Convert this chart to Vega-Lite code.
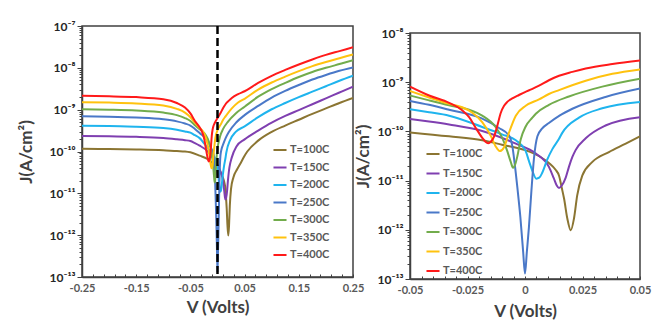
{
  "$schema": "https://vega.github.io/schema/vega-lite/v6.json",
  "background": "white",
  "padding": {"left": 16, "top": 19, "right": 5, "bottom": 5},
  "datasets": {
    "curves": [
      {"T": "T=100C", "V": -0.25, "J": 1.161e-10},
      {"T": "T=100C", "V": -0.2, "J": 1.148e-10},
      {"T": "T=100C", "V": -0.15, "J": 1.122e-10},
      {"T": "T=100C", "V": -0.1, "J": 1.072e-10},
      {"T": "T=100C", "V": -0.075, "J": 1.023e-10},
      {"T": "T=100C", "V": -0.06, "J": 1.0e-10},
      {"T": "T=100C", "V": -0.05, "J": 9.55e-11},
      {"T": "T=100C", "V": -0.033, "J": 7.943e-11},
      {"T": "T=100C", "V": -0.0186, "J": 6.607e-11},
      {"T": "T=100C", "V": -0.01, "J": 5.37e-11},
      {"T": "T=100C", "V": 0, "J": 4.169e-11},
      {"T": "T=100C", "V": 0.006, "J": 3.162e-11},
      {"T": "T=100C", "V": 0.0104, "J": 2.291e-11},
      {"T": "T=100C", "V": 0.0133, "J": 1.66e-11},
      {"T": "T=100C", "V": 0.0148, "J": 1.259e-11},
      {"T": "T=100C", "V": 0.016, "J": 7.079e-12},
      {"T": "T=100C", "V": 0.017, "J": 4.266e-12},
      {"T": "T=100C", "V": 0.0184, "J": 1.698e-12},
      {"T": "T=100C", "V": 0.0199, "J": 9.772e-13},
      {"T": "T=100C", "V": 0.0213, "J": 1.698e-12},
      {"T": "T=100C", "V": 0.0227, "J": 5.012e-12},
      {"T": "T=100C", "V": 0.0249, "J": 1.259e-11},
      {"T": "T=100C", "V": 0.0293, "J": 2.399e-11},
      {"T": "T=100C", "V": 0.0365, "J": 3.802e-11},
      {"T": "T=100C", "V": 0.0438, "J": 5.623e-11},
      {"T": "T=100C", "V": 0.05, "J": 7.943e-11},
      {"T": "T=100C", "V": 0.055, "J": 1.0e-10},
      {"T": "T=100C", "V": 0.075, "J": 1.82e-10},
      {"T": "T=100C", "V": 0.1, "J": 2.951e-10},
      {"T": "T=100C", "V": 0.125, "J": 4.169e-10},
      {"T": "T=100C", "V": 0.15, "J": 5.754e-10},
      {"T": "T=100C", "V": 0.175, "J": 7.943e-10},
      {"T": "T=100C", "V": 0.2, "J": 1.072e-9},
      {"T": "T=100C", "V": 0.225, "J": 1.445e-9},
      {"T": "T=100C", "V": 0.25, "J": 1.905e-9},

      {"T": "T=150C", "V": -0.25, "J": 2.344e-10},
      {"T": "T=150C", "V": -0.2, "J": 2.317e-10},
      {"T": "T=150C", "V": -0.15, "J": 2.239e-10},
      {"T": "T=150C", "V": -0.1, "J": 2.089e-10},
      {"T": "T=150C", "V": -0.075, "J": 1.95e-10},
      {"T": "T=150C", "V": -0.06, "J": 1.862e-10},
      {"T": "T=150C", "V": -0.05, "J": 1.778e-10},
      {"T": "T=150C", "V": -0.0417, "J": 1.585e-10},
      {"T": "T=150C", "V": -0.033, "J": 1.38e-10},
      {"T": "T=150C", "V": -0.0186, "J": 1.023e-10},
      {"T": "T=150C", "V": -0.004, "J": 5.623e-11},
      {"T": "T=150C", "V": 0.0047, "J": 3.548e-11},
      {"T": "T=150C", "V": 0.0104, "J": 1.905e-11},
      {"T": "T=150C", "V": 0.0125, "J": 1.122e-11},
      {"T": "T=150C", "V": 0.0138, "J": 7.943e-12},
      {"T": "T=150C", "V": 0.0148, "J": 7.079e-12},
      {"T": "T=150C", "V": 0.016, "J": 7.943e-12},
      {"T": "T=150C", "V": 0.0177, "J": 1.148e-11},
      {"T": "T=150C", "V": 0.0191, "J": 1.905e-11},
      {"T": "T=150C", "V": 0.0206, "J": 3.02e-11},
      {"T": "T=150C", "V": 0.022, "J": 4.169e-11},
      {"T": "T=150C", "V": 0.0264, "J": 7.244e-11},
      {"T": "T=150C", "V": 0.035, "J": 1.318e-10},
      {"T": "T=150C", "V": 0.05, "J": 1.95e-10},
      {"T": "T=150C", "V": 0.075, "J": 3.162e-10},
      {"T": "T=150C", "V": 0.1, "J": 4.898e-10},
      {"T": "T=150C", "V": 0.125, "J": 7.079e-10},
      {"T": "T=150C", "V": 0.15, "J": 9.772e-10},
      {"T": "T=150C", "V": 0.175, "J": 1.349e-9},
      {"T": "T=150C", "V": 0.2, "J": 1.862e-9},
      {"T": "T=150C", "V": 0.225, "J": 2.57e-9},
      {"T": "T=150C", "V": 0.25, "J": 3.548e-9},

      {"T": "T=200C", "V": -0.25, "J": 4.12e-10},
      {"T": "T=200C", "V": -0.2, "J": 4.074e-10},
      {"T": "T=200C", "V": -0.15, "J": 3.89e-10},
      {"T": "T=200C", "V": -0.1, "J": 3.631e-10},
      {"T": "T=200C", "V": -0.075, "J": 3.311e-10},
      {"T": "T=200C", "V": -0.06, "J": 3.02e-10},
      {"T": "T=200C", "V": -0.05, "J": 2.818e-10},
      {"T": "T=200C", "V": -0.0417, "J": 2.455e-10},
      {"T": "T=200C", "V": -0.033, "J": 2.089e-10},
      {"T": "T=200C", "V": -0.0186, "J": 1.23e-10},
      {"T": "T=200C", "V": -0.01, "J": 8.71e-11},
      {"T": "T=200C", "V": -0.004, "J": 6.607e-11},
      {"T": "T=200C", "V": 0.0003, "J": 3.981e-11},
      {"T": "T=200C", "V": 0.0017, "J": 2.512e-11},
      {"T": "T=200C", "V": 0.0032, "J": 1.585e-11},
      {"T": "T=200C", "V": 0.0049, "J": 1.096e-11},
      {"T": "T=200C", "V": 0.0062, "J": 1.148e-11},
      {"T": "T=200C", "V": 0.0075, "J": 1.445e-11},
      {"T": "T=200C", "V": 0.0097, "J": 2.692e-11},
      {"T": "T=200C", "V": 0.0119, "J": 4.365e-11},
      {"T": "T=200C", "V": 0.0148, "J": 7.079e-11},
      {"T": "T=200C", "V": 0.0162, "J": 9.333e-11},
      {"T": "T=200C", "V": 0.0235, "J": 1.905e-10},
      {"T": "T=200C", "V": 0.0336, "J": 2.951e-10},
      {"T": "T=200C", "V": 0.05, "J": 3.981e-10},
      {"T": "T=200C", "V": 0.075, "J": 6.607e-10},
      {"T": "T=200C", "V": 0.1, "J": 1.023e-9},
      {"T": "T=200C", "V": 0.125, "J": 1.445e-9},
      {"T": "T=200C", "V": 0.15, "J": 1.995e-9},
      {"T": "T=200C", "V": 0.175, "J": 2.692e-9},
      {"T": "T=200C", "V": 0.2, "J": 3.631e-9},
      {"T": "T=200C", "V": 0.225, "J": 4.898e-9},
      {"T": "T=200C", "V": 0.25, "J": 6.457e-9},

      {"T": "T=250C", "V": -0.25, "J": 6.918e-10},
      {"T": "T=250C", "V": -0.2, "J": 6.761e-10},
      {"T": "T=250C", "V": -0.15, "J": 6.457e-10},
      {"T": "T=250C", "V": -0.1, "J": 5.888e-10},
      {"T": "T=250C", "V": -0.075, "J": 5.248e-10},
      {"T": "T=250C", "V": -0.06, "J": 4.677e-10},
      {"T": "T=250C", "V": -0.05, "J": 4.169e-10},
      {"T": "T=250C", "V": -0.0417, "J": 3.467e-10},
      {"T": "T=250C", "V": -0.033, "J": 2.754e-10},
      {"T": "T=250C", "V": -0.0186, "J": 1.82e-10},
      {"T": "T=250C", "V": -0.0113, "J": 1.175e-10},
      {"T": "T=250C", "V": -0.007, "J": 8.318e-11},
      {"T": "T=250C", "V": -0.0055, "J": 5.012e-11},
      {"T": "T=250C", "V": -0.0045, "J": 2.239e-11},
      {"T": "T=250C", "V": -0.0033, "J": 7.079e-12},
      {"T": "T=250C", "V": -0.002, "J": 1.778e-12},
      {"T": "T=250C", "V": -0.0008, "J": 3.548e-13},
      {"T": "T=250C", "V": 0, "J": 1.288e-13},
      {"T": "T=250C", "V": 0.0008, "J": 3.548e-13},
      {"T": "T=250C", "V": 0.0017, "J": 1.122e-12},
      {"T": "T=250C", "V": 0.0028, "J": 6.31e-12},
      {"T": "T=250C", "V": 0.0039, "J": 2.818e-11},
      {"T": "T=250C", "V": 0.0054, "J": 7.943e-11},
      {"T": "T=250C", "V": 0.0075, "J": 1.148e-10},
      {"T": "T=250C", "V": 0.0104, "J": 1.479e-10},
      {"T": "T=250C", "V": 0.015, "J": 2.089e-10},
      {"T": "T=250C", "V": 0.0206, "J": 2.884e-10},
      {"T": "T=250C", "V": 0.035, "J": 5.012e-10},
      {"T": "T=250C", "V": 0.05, "J": 7.413e-10},
      {"T": "T=250C", "V": 0.075, "J": 1.23e-9},
      {"T": "T=250C", "V": 0.1, "J": 1.95e-9},
      {"T": "T=250C", "V": 0.125, "J": 2.818e-9},
      {"T": "T=250C", "V": 0.15, "J": 3.89e-9},
      {"T": "T=250C", "V": 0.175, "J": 5.248e-9},
      {"T": "T=250C", "V": 0.2, "J": 6.761e-9},
      {"T": "T=250C", "V": 0.225, "J": 8.511e-9},
      {"T": "T=250C", "V": 0.25, "J": 1.023e-8},

      {"T": "T=300C", "V": -0.25, "J": 1.023e-9},
      {"T": "T=300C", "V": -0.2, "J": 1.0e-9},
      {"T": "T=300C", "V": -0.15, "J": 9.55e-10},
      {"T": "T=300C", "V": -0.1, "J": 8.511e-10},
      {"T": "T=300C", "V": -0.075, "J": 7.413e-10},
      {"T": "T=300C", "V": -0.06, "J": 6.31e-10},
      {"T": "T=300C", "V": -0.05, "J": 5.37e-10},
      {"T": "T=300C", "V": -0.0417, "J": 4.266e-10},
      {"T": "T=300C", "V": -0.033, "J": 3.388e-10},
      {"T": "T=300C", "V": -0.0243, "J": 2.754e-10},
      {"T": "T=300C", "V": -0.0186, "J": 2.089e-10},
      {"T": "T=300C", "V": -0.0128, "J": 1.23e-10},
      {"T": "T=300C", "V": -0.0099, "J": 7.413e-11},
      {"T": "T=300C", "V": -0.0077, "J": 3.981e-11},
      {"T": "T=300C", "V": -0.0062, "J": 2.399e-11},
      {"T": "T=300C", "V": -0.0052, "J": 1.82e-11},
      {"T": "T=300C", "V": -0.0042, "J": 2.188e-11},
      {"T": "T=300C", "V": -0.0033, "J": 3.162e-11},
      {"T": "T=300C", "V": -0.0019, "J": 6.761e-11},
      {"T": "T=300C", "V": 0.0003, "J": 1.259e-10},
      {"T": "T=300C", "V": 0.0032, "J": 1.905e-10},
      {"T": "T=300C", "V": 0.0047, "J": 2.291e-10},
      {"T": "T=300C", "V": 0.0104, "J": 3.467e-10},
      {"T": "T=300C", "V": 0.0191, "J": 5.129e-10},
      {"T": "T=300C", "V": 0.0336, "J": 8.128e-10},
      {"T": "T=300C", "V": 0.05, "J": 1.175e-9},
      {"T": "T=300C", "V": 0.075, "J": 2.042e-9},
      {"T": "T=300C", "V": 0.1, "J": 3.09e-9},
      {"T": "T=300C", "V": 0.125, "J": 4.365e-9},
      {"T": "T=300C", "V": 0.15, "J": 6.026e-9},
      {"T": "T=300C", "V": 0.175, "J": 7.943e-9},
      {"T": "T=300C", "V": 0.2, "J": 1.0e-8},
      {"T": "T=300C", "V": 0.225, "J": 1.23e-8},
      {"T": "T=300C", "V": 0.25, "J": 1.514e-8},

      {"T": "T=350C", "V": -0.25, "J": 1.514e-9},
      {"T": "T=350C", "V": -0.2, "J": 1.479e-9},
      {"T": "T=350C", "V": -0.15, "J": 1.413e-9},
      {"T": "T=350C", "V": -0.1, "J": 1.259e-9},
      {"T": "T=350C", "V": -0.075, "J": 1.047e-9},
      {"T": "T=350C", "V": -0.06, "J": 8.511e-10},
      {"T": "T=350C", "V": -0.05, "J": 6.607e-10},
      {"T": "T=350C", "V": -0.0417, "J": 4.898e-10},
      {"T": "T=350C", "V": -0.033, "J": 3.631e-10},
      {"T": "T=350C", "V": -0.0273, "J": 3.09e-10},
      {"T": "T=350C", "V": -0.0229, "J": 2.399e-10},
      {"T": "T=350C", "V": -0.0186, "J": 1.549e-10},
      {"T": "T=350C", "V": -0.0149, "J": 8.128e-11},
      {"T": "T=350C", "V": -0.0128, "J": 5.012e-11},
      {"T": "T=350C", "V": -0.011, "J": 3.981e-11},
      {"T": "T=350C", "V": -0.0091, "J": 4.786e-11},
      {"T": "T=350C", "V": -0.007, "J": 9.333e-11},
      {"T": "T=350C", "V": -0.004, "J": 2.089e-10},
      {"T": "T=350C", "V": 0.0003, "J": 3.311e-10},
      {"T": "T=350C", "V": 0.0061, "J": 4.467e-10},
      {"T": "T=350C", "V": 0.0104, "J": 5.754e-10},
      {"T": "T=350C", "V": 0.0148, "J": 6.918e-10},
      {"T": "T=350C", "V": 0.0264, "J": 1.072e-9},
      {"T": "T=350C", "V": 0.038, "J": 1.479e-9},
      {"T": "T=350C", "V": 0.05, "J": 1.82e-9},
      {"T": "T=350C", "V": 0.075, "J": 3.02e-9},
      {"T": "T=350C", "V": 0.1, "J": 4.467e-9},
      {"T": "T=350C", "V": 0.125, "J": 6.166e-9},
      {"T": "T=350C", "V": 0.15, "J": 8.318e-9},
      {"T": "T=350C", "V": 0.175, "J": 1.096e-8},
      {"T": "T=350C", "V": 0.2, "J": 1.38e-8},
      {"T": "T=350C", "V": 0.225, "J": 1.698e-8},
      {"T": "T=350C", "V": 0.25, "J": 2.089e-8},

      {"T": "T=400C", "V": -0.25, "J": 2.138e-9},
      {"T": "T=400C", "V": -0.2, "J": 2.089e-9},
      {"T": "T=400C", "V": -0.15, "J": 1.995e-9},
      {"T": "T=400C", "V": -0.1, "J": 1.778e-9},
      {"T": "T=400C", "V": -0.075, "J": 1.445e-9},
      {"T": "T=400C", "V": -0.06, "J": 1.122e-9},
      {"T": "T=400C", "V": -0.05, "J": 8.128e-10},
      {"T": "T=400C", "V": -0.0417, "J": 5.37e-10},
      {"T": "T=400C", "V": -0.033, "J": 3.802e-10},
      {"T": "T=400C", "V": -0.0273, "J": 2.692e-10},
      {"T": "T=400C", "V": -0.0243, "J": 1.95e-10},
      {"T": "T=400C", "V": -0.0214, "J": 1.175e-10},
      {"T": "T=400C", "V": -0.0186, "J": 7.413e-11},
      {"T": "T=400C", "V": -0.0172, "J": 6.166e-11},
      {"T": "T=400C", "V": -0.016, "J": 5.754e-11},
      {"T": "T=400C", "V": -0.0147, "J": 6.31e-11},
      {"T": "T=400C", "V": -0.0135, "J": 7.762e-11},
      {"T": "T=400C", "V": -0.012, "J": 1.318e-10},
      {"T": "T=400C", "V": -0.0106, "J": 2.344e-10},
      {"T": "T=400C", "V": -0.0091, "J": 3.311e-10},
      {"T": "T=400C", "V": -0.0077, "J": 3.981e-10},
      {"T": "T=400C", "V": -0.0055, "J": 4.677e-10},
      {"T": "T=400C", "V": -0.0026, "J": 5.495e-10},
      {"T": "T=400C", "V": 0, "J": 6.31e-10},
      {"T": "T=400C", "V": 0.003, "J": 7.244e-10},
      {"T": "T=400C", "V": 0.0061, "J": 8.511e-10},
      {"T": "T=400C", "V": 0.0104, "J": 1.096e-9},
      {"T": "T=400C", "V": 0.0148, "J": 1.349e-9},
      {"T": "T=400C", "V": 0.0206, "J": 1.622e-9},
      {"T": "T=400C", "V": 0.0264, "J": 1.905e-9},
      {"T": "T=400C", "V": 0.038, "J": 2.344e-9},
      {"T": "T=400C", "V": 0.05, "J": 2.754e-9},
      {"T": "T=400C", "V": 0.075, "J": 4.365e-9},
      {"T": "T=400C", "V": 0.1, "J": 6.457e-9},
      {"T": "T=400C", "V": 0.125, "J": 8.913e-9},
      {"T": "T=400C", "V": 0.15, "J": 1.202e-8},
      {"T": "T=400C", "V": 0.175, "J": 1.585e-8},
      {"T": "T=400C", "V": 0.2, "J": 2.042e-8},
      {"T": "T=400C", "V": 0.225, "J": 2.512e-8},
      {"T": "T=400C", "V": 0.25, "J": 3.09e-8}
    ]
  },
  "spacing": 57,
  "bounds": "flush",
  "resolve": {"legend": {"color": "independent"}},
  "hconcat": [
    {
      "width": 271,
      "height": 251,
      "layer": [
        {
          "data": {"name": "curves"},
          "mark": {"type": "line", "strokeWidth": 2, "interpolate": "monotone", "clip": true},
          "encoding": {
            "x": {
              "field": "V", "type": "quantitative",
              "scale": {"domain": [-0.25, 0.25], "nice": false, "zero": false},
              "axis": {
                "title": "V (Volts)",
                "values": [-0.25, -0.23, -0.21, -0.19, -0.17, -0.15, -0.13, -0.11, -0.09, -0.07, -0.05, -0.03, -0.01, 0.01, 0.03, 0.05, 0.07, 0.09, 0.11, 0.13, 0.15, 0.17, 0.19, 0.21, 0.23, 0.25],
                "labelExpr": "abs(datum.value * 20 - round(datum.value * 20)) < 0.01 && abs(round(datum.value * 20)) % 2 == 1 ? (datum.value < 0 ? '-' : '') + format(abs(datum.value), '.2f') : ''",
                "labelOverlap": false,
                "tickSize": -3,
                "labelPadding": 8,
                "titlePadding": 6
              }
            },
            "y": {
              "field": "J", "type": "quantitative",
              "scale": {"type": "log", "domain": [1e-13, 1e-7], "nice": false},
              "axis": {
                "title": "J(A/cm²)",
                "values": [1e-13, 2e-13, 3e-13, 4e-13, 5e-13, 6e-13, 7e-13, 8e-13, 9e-13, 1e-12, 2e-12, 3e-12, 4e-12, 5e-12, 6e-12, 7e-12, 8e-12, 9e-12, 1e-11, 2e-11, 3e-11, 4e-11, 5e-11, 6e-11, 7e-11, 8e-11, 9e-11, 1e-10, 2e-10, 3e-10, 4e-10, 5e-10, 6e-10, 7e-10, 8e-10, 9e-10, 1e-9, 2e-9, 3e-9, 4e-9, 5e-9, 6e-9, 7e-9, 8e-9, 9e-9, 1e-8, 2e-8, 3e-8, 4e-8, 5e-8, 6e-8, 7e-8, 8e-8, 9e-8, 1e-7],
                "labelExpr": "abs(datum.value / pow(10, round(log(datum.value) / LN10)) - 1) < 0.01 ? ['10⁻¹³', '10⁻¹²', '10⁻¹¹', '10⁻¹⁰', '10⁻⁹', '10⁻⁸', '10⁻⁷'][round(log(datum.value) / LN10) + 13] : ''",
                "labelOverlap": false,
                "tickSize": {"condition": {"test": "abs(datum.value / pow(10, round(log(datum.value) / LN10)) - 1) < 0.01", "value": 5}, "value": 3},
                "labelPadding": 2,
                "labelColor": "#262626",
                "labelFontSize": 12,
                "titlePadding": 14
              }
            },
            "color": {
              "field": "T", "type": "nominal",
              "scale": {"domain": ["T=100C", "T=150C", "T=200C", "T=250C", "T=300C", "T=350C", "T=400C"], "range": ["#8b7532", "#7f3fb0", "#1fb4ee", "#4a78c8", "#72ac4c", "#ffc20e", "#ff1a1a"]},
              "legend": {"title": null, "orient": "none", "legendX": 190, "legendY": 116, "rowPadding": 4.5}
            }
          }
        },
        {
          "data": {"values": [{"V": 0}]},
          "mark": {"type": "rule", "color": "black", "strokeWidth": 2.5, "strokeDash": [8, 4]},
          "encoding": {
            "x": {
              "field": "V", "type": "quantitative",
              "scale": {"domain": [-0.25, 0.25], "nice": false, "zero": false},
              "axis": {
                "title": "V (Volts)",
                "values": [-0.25, -0.23, -0.21, -0.19, -0.17, -0.15, -0.13, -0.11, -0.09, -0.07, -0.05, -0.03, -0.01, 0.01, 0.03, 0.05, 0.07, 0.09, 0.11, 0.13, 0.15, 0.17, 0.19, 0.21, 0.23, 0.25],
                "labelExpr": "abs(datum.value * 20 - round(datum.value * 20)) < 0.01 && abs(round(datum.value * 20)) % 2 == 1 ? (datum.value < 0 ? '-' : '') + format(abs(datum.value), '.2f') : ''",
                "labelOverlap": false,
                "tickSize": -3,
                "labelPadding": 8,
                "titlePadding": 6
              }
            }
          }
        }
      ]
    },
    {
      "spacing": 6,
      "bounds": "flush",
      "resolve": {"legend": {"color": "independent"}},
      "vconcat": [
        {
          "width": 230,
          "height": 1,
          "view": {"stroke": null},
          "data": {"values": []},
          "mark": "rule",
          "encoding": {}
        },
        {
          "width": 230,
          "height": 246,
          "data": {"name": "curves"},
          "transform": [{"filter": {"field": "V", "range": [-0.05, 0.05]}}],
          "mark": {"type": "line", "strokeWidth": 2, "interpolate": "monotone", "clip": true},
          "encoding": {
            "x": {
              "field": "V", "type": "quantitative",
              "scale": {"domain": [-0.05, 0.05], "nice": false, "zero": false},
              "axis": {
                "title": "V (Volts)",
                "values": [-0.05, -0.045, -0.04, -0.035, -0.03, -0.025, -0.02, -0.015, -0.01, -0.005, 0, 0.005, 0.01, 0.015, 0.02, 0.025, 0.03, 0.035, 0.04, 0.045, 0.05],
                "labelExpr": "indexof([-0.05, -0.025, 0, 0.025, 0.05], datum.value) >= 0 ? toString(datum.value) : ''",
                "labelOverlap": false,
                "tickSize": -3,
                "labelPadding": 8,
                "titlePadding": 8
              }
            },
            "y": {
              "field": "J", "type": "quantitative",
              "scale": {"type": "log", "domain": [1e-13, 1e-8], "nice": false},
              "axis": {
                "title": "J(A/cm²)",
                "values": [1e-13, 2e-13, 3e-13, 4e-13, 5e-13, 6e-13, 7e-13, 8e-13, 9e-13, 1e-12, 2e-12, 3e-12, 4e-12, 5e-12, 6e-12, 7e-12, 8e-12, 9e-12, 1e-11, 2e-11, 3e-11, 4e-11, 5e-11, 6e-11, 7e-11, 8e-11, 9e-11, 1e-10, 2e-10, 3e-10, 4e-10, 5e-10, 6e-10, 7e-10, 8e-10, 9e-10, 1e-9, 2e-9, 3e-9, 4e-9, 5e-9, 6e-9, 7e-9, 8e-9, 9e-9, 1e-8],
                "labelExpr": "abs(datum.value / pow(10, round(log(datum.value) / LN10)) - 1) < 0.01 ? ['10⁻¹³', '10⁻¹²', '10⁻¹¹', '10⁻¹⁰', '10⁻⁹', '10⁻⁸', '10⁻⁷'][round(log(datum.value) / LN10) + 13] : ''",
                "labelOverlap": false,
                "tickSize": {"condition": {"test": "abs(datum.value / pow(10, round(log(datum.value) / LN10)) - 1) < 0.01", "value": 5}, "value": 3},
                "labelPadding": 2,
                "labelColor": "#262626",
                "labelFontSize": 12,
                "titlePadding": 5
              }
            },
            "color": {
              "field": "T", "type": "nominal",
              "scale": {"domain": ["T=100C", "T=150C", "T=200C", "T=250C", "T=300C", "T=350C", "T=400C"], "range": ["#8b7532", "#7f3fb0", "#1fb4ee", "#4a78c8", "#72ac4c", "#ffc20e", "#ff1a1a"]},
              "legend": {"title": null, "orient": "none", "legendX": 15, "legendY": 113, "rowPadding": 6.5}
            }
          }
        }
      ]
    }
  ],
  "config": {
    "view": {"stroke": "#404040", "strokeWidth": 1.5},
    "axis": {
      "grid": false,
      "labelFont": "Lato",
      "labelFontWeight": "bold",
      "labelFontSize": 11,
      "labelColor": "#595959",
      "labelFlush": false,
      "titleFont": "Lato",
      "titleFontWeight": "bold",
      "titleFontSize": 17,
      "titleColor": "#404040",
      "domainColor": "#404040",
      "domainWidth": 1.5,
      "tickColor": "#404040",
      "tickWidth": 1
    },
    "legend": {
      "labelFont": "Lato",
      "labelFontWeight": "bold",
      "labelFontSize": 11,
      "labelColor": "#595959",
      "symbolType": "stroke",
      "symbolStrokeWidth": 2,
      "symbolSize": 170,
      "padding": 0,
      "labelOffset": 2
    }
  }
}
